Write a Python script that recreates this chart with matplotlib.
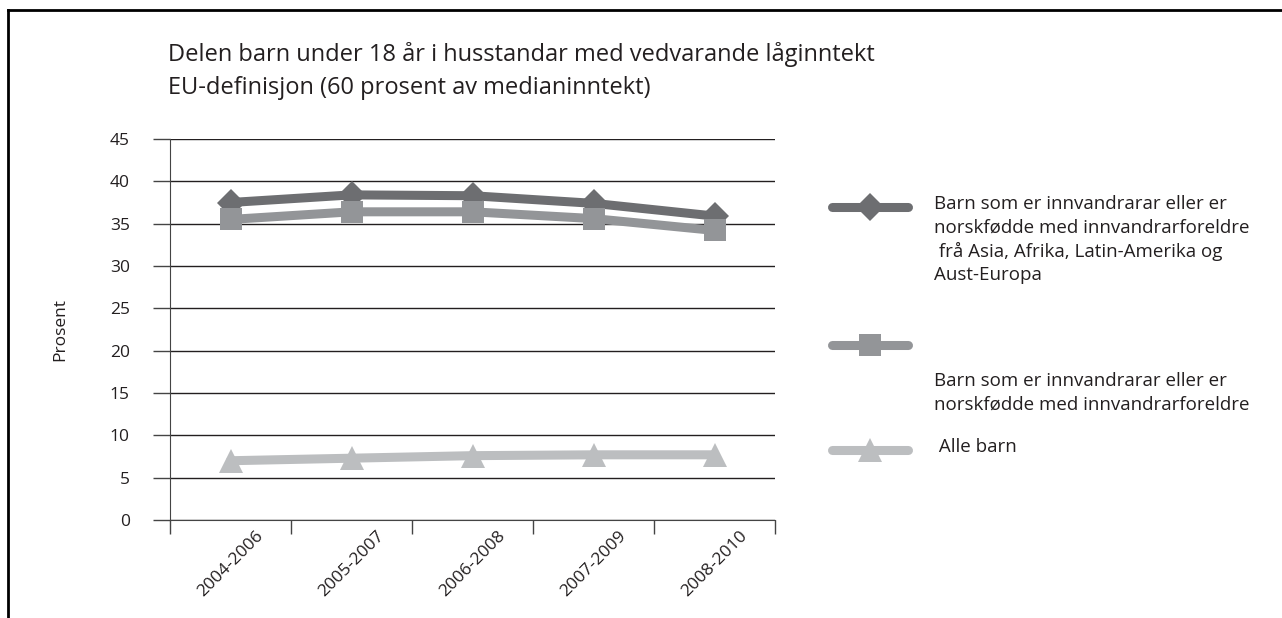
import matplotlib
matplotlib.use("Agg")
import matplotlib.pyplot as plt
from matplotlib.lines import Line2D
import numpy as np

plt.rcParams['font.family'] = ['Open Sans', 'DejaVu Sans']

categories = ["2004-2006", "2005-2007", "2006-2008", "2007-2009", "2008-2010"]
series_labels = [
    "Barn som er innvandrarar eller er\nnorskfødde med innvandrarforeldre\n frå Asia, Afrika, Latin-Amerika og\nAust-Europa",
    "Barn som er innvandrarar eller er\nnorskfødde med innvandrarforeldre",
    " Alle barn",
]
asia_afrika = [37.5, 38.4, 38.3, 37.4, 35.9]
innvandrar = [35.5, 36.4, 36.4, 35.6, 34.2]
alle_barn = [7.0, 7.3, 7.6, 7.7, 7.7]
yticks = [0, 5, 10, 15, 20, 25, 30, 35, 40, 45]

title_lines = ["Delen barn under 18 år i husstandar med vedvarande låginntekt",
               "EU-definisjon (60 prosent av medianinntekt)"]

colors = ["#6d6e71", "#939598", "#bcbec0"]
markers = ["D", "s", "^"]
msizes = [14, 16, 17]

W, H = 1282, 618
fig = plt.figure(figsize=(W / 100, H / 100), dpi=100)
ax = fig.add_axes([170 / W, 1 - 520 / H, (775 - 170) / W, (520 - 139) / H])

x = np.arange(len(categories))
for vals, c, m, ms in zip([asia_afrika, innvandrar, alle_barn], colors, markers, msizes):
    ax.plot(x, vals, color=c, lw=6.5, marker=m, ms=ms, markeredgewidth=0,
            solid_capstyle='round', solid_joinstyle='round', zorder=3)

ax.set_xlim(-0.5, len(categories) - 0.5)
ax.set_ylim(0, 45)
ax.set_yticks(yticks)
ax.set_yticklabels([str(v) for v in yticks], fontsize=12.5, color="#231f20")
ax.yaxis.grid(True, color="#231f20", lw=1.0)
ax.set_axisbelow(True)
ax.set_xticks(x)
ax.set_xticklabels(categories, rotation=45, ha='center', va='top', fontsize=12.5, color="#231f20")
ax.tick_params(axis='x', length=0, pad=6)
ax.set_xticks(np.arange(-0.5, len(categories), 1.0), minor=True)
ax.tick_params(axis='x', which='minor', length=10, width=1, color="#444444")
ax.tick_params(axis='y', length=12, width=1, color="#444444", pad=17)
for s in ['top', 'right']:
    ax.spines[s].set_visible(False)
ax.spines['left'].set_color("#444444")
ax.spines['bottom'].set_color("#444444")
ax.set_ylabel("Prosent", fontsize=12.5, color="#231f20", labelpad=30)

for tl, by in zip(title_lines, [61, 94]):
    fig.text(168 / W, 1 - by / H, tl, fontsize=17, color="#231f20", va='baseline', ha='left')

# legend
leg_y = [207, 345, 450]
for c, m, ms, ly in zip(colors, markers, msizes, leg_y):
    fig.add_artist(Line2D([832 / W, 908 / W], [1 - ly / H, 1 - ly / H], color=c, lw=6.5,
                          solid_capstyle='round', transform=fig.transFigure))
    fig.add_artist(Line2D([870 / W], [1 - ly / H], color=c, marker=m, ms=ms,
                          markeredgewidth=0, transform=fig.transFigure))
fig.text(934 / W, 1 - 195 / H, series_labels[0], fontsize=13.5, color="#231f20", va='top',
         ha='left', linespacing=1.38)
fig.text(934 / W, 1 - 372 / H, series_labels[1], fontsize=13.5, color="#231f20", va='top',
         ha='left', linespacing=1.38)
fig.text(934 / W, 1 - 447 / H, series_labels[2], fontsize=13.5, color="#231f20", va='center',
         ha='left')

# border
fig.add_artist(Line2D([8 / W, 1], [1 - 10 / H, 1 - 10 / H], color='black', lw=2, transform=fig.transFigure))
fig.add_artist(Line2D([8 / W, 8 / W], [0, 1 - 10 / H], color='black', lw=2, transform=fig.transFigure))

fig.savefig("out.png", dpi=100)
